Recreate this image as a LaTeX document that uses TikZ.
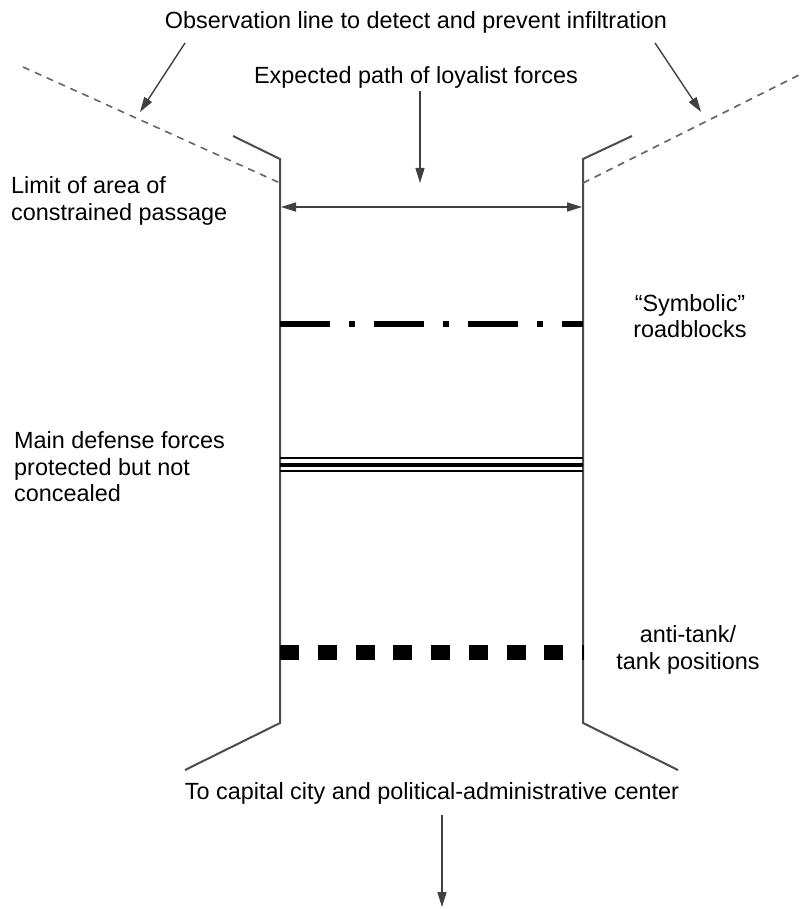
\documentclass[tikz,border=0pt]{standalone}
\usepackage{fontspec}
\setmainfont{Liberation Sans}
\usetikzlibrary{arrows.meta}

\begin{document}
\begin{tikzpicture}[x=1pt,y=-1pt,>={Triangle[length=15pt,width=9pt]}]
\tikzstyle{every node}=[font=\fontsize{23.4}{26.5}\selectfont,inner sep=0pt,text=black]
\tikzstyle{wall}=[black!70,line width=2pt]
\tikzstyle{obsline}=[black!60,line width=1.6pt,dash pattern=on 7pt off 6pt]
\tikzstyle{pointer}=[black!75,line width=1.4pt,->]
\useasboundingbox (0,0) rectangle (805,909);
% passage walls
\coordinate (LT) at (233,136);
\coordinate (LA) at (280,159);
\coordinate (LB) at (280,723);
\coordinate (LE) at (185,770);
\coordinate (RT) at (632,136);
\coordinate (RA) at (583,159);
\coordinate (RB) at (583,723);
\coordinate (RE) at (678,770);
\draw[wall] (LT) -- (LA) -- (LB) -- (LE);
\draw[wall] (RT) -- (RA) -- (RB) -- (RE);
% observation line
\coordinate (OL) at (23,67);
\coordinate (OR) at (803,73);
\draw[obsline] (OL) -- (280,183);
\draw[obsline] (583,183) -- (OR);
% texts
\node (obs) at (416,22) {Observation line to detect and prevent infiltration};
\node (path) at (416,77) {Expected path of loyalist forces};
\node[anchor=west,align=left] (limit) at (11,201) {Limit of area of\\constrained passage};
\node[align=center] (symb) at (690,316) {“Symbolic”\\roadblocks};
\node[anchor=west,align=left] (main) at (14,467) {Main defense forces\\protected but not\\concealed};
\node[align=center] (tank) at (688,650) {anti-tank/\\tank positions};
\node (capital) at (432,793) {To capital city and political-administrative center};
% pointers
\draw[pointer] (185,43) -- (140,112);
\draw[pointer] (655,43) -- (701,112);
\draw[pointer] (420,91) -- (420,183);
\draw[pointer,<->] (281,207) -- (582,207);
\draw[pointer] (442,815) -- (442,907);
% defense lines
\draw[line width=6pt,dash pattern=on 50pt off 19pt on 6pt off 19pt] (280,324) -- (583,324);
\draw[line width=1.5pt] (280,458) -- (583,458);
\draw[line width=4pt] (280,464.5) -- (583,464.5);
\draw[line width=1.5pt] (280,471) -- (583,471);
\draw[line width=15pt,dash pattern=on 19pt off 18.75pt] (280,652) -- (584,652);
\end{tikzpicture}
\end{document}
